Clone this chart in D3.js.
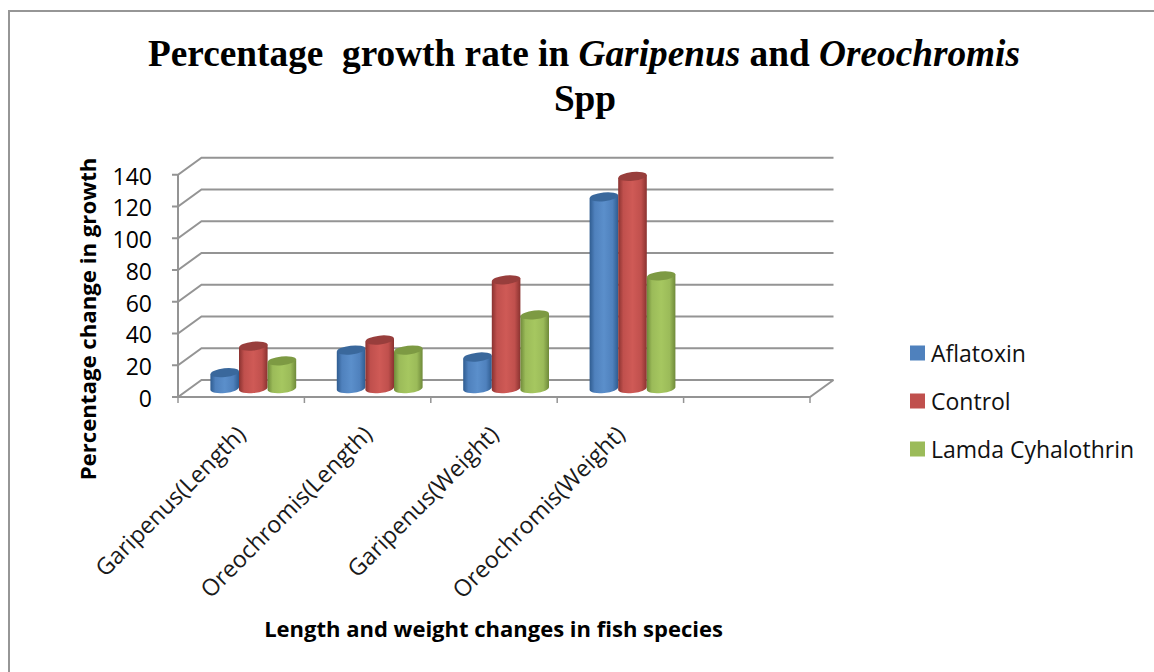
<!DOCTYPE html>
<html><head><meta charset="utf-8">
<script src="https://cdn.jsdelivr.net/npm/d3@7/dist/d3.min.js"></script>
<style>html,body{margin:0;padding:0;background:#fff}svg{display:block}</style>
</head><body><div id="c"></div>
<script>
const categories=["Garipenus(Length)","Oreochromis(Length)","Garipenus(Weight)","Oreochromis(Weight)",""];
const seriesNames=["Aflatoxin","Control","Lamda Cyhalothrin"];
const aflatoxin=[10,24.3,19.9,120.8];
const control=[26.8,30.6,68.5,133.6];
const lamda=[17.5,24.3,46.4,71];
const yTicks=[0,20,40,60,80,100,120,140];
const seriesValues=[aflatoxin,control,lamda];
const colors=[
 {base:"#4f81bd",dark:"#2f5c90",light:"#5b8fcb",top:"#3a689c"},
 {base:"#c0504d",dark:"#8a3230",light:"#cf5a56",top:"#983e3c"},
 {base:"#9bbb59",dark:"#6f8a3a",light:"#a6c760",top:"#7d9a43"}];

const W=1154,H=672;
const svg=d3.select("#c").append("svg").attr("width",W).attr("height",H);
const defs=svg.append("defs");
colors.forEach((c,i)=>{
 const g=defs.append("linearGradient").attr("id","g"+i);
 [[0,c.dark],[.18,c.base],[.5,c.light],[.8,c.base],[1,c.dark]].forEach(s=>g.append("stop").attr("offset",s[0]).attr("stop-color",s[1]));
});
// frame
svg.append("path").attr("d",`M9,${H}V11H${W}`).attr("fill","none").attr("stroke","#969696").attr("stroke-width",2);

const x0=178,x1=810,yBase=397,yTop=174.7,dx=23.5,dy=-17;
const x=d3.scaleBand().domain(categories.map((d,i)=>i)).range([x0,x1]);
const y=d3.scaleLinear().domain([0,140]).range([yBase,yTop]);
const grid="#949494";
const gg=svg.append("g").attr("fill","none").attr("stroke",grid).attr("stroke-width",2);
yTicks.forEach(t=>{
 gg.append("path").attr("d",`M${x0-6},${y(t)}H${x0}L${x0+dx},${y(t)+dy}H${x1+dx}`);
});
gg.append("path").attr("d",`M${x0},${yTop}V${yBase}H${x1}L${x1+dx},${yBase+dy}`);
gg.selectAll(".t").data(d3.range(6)).enter().append("path")
 .attr("d",i=>`M${i<5?x(i):x1},${yBase}v6`).attr("stroke-width",1.5);

// bars
const barW=28.6, depthY=-8.4;
const groupOffset=32.4;
const rx=barW/2, ry=4.4, tilt=-6, drop=1.5;
const bars=svg.append("g");
seriesValues.forEach((vals,s)=>{
 vals.forEach((v,i)=>{
  const cx=x(i)+groupOffset+barW*s+rx;
  const yb=y(0)+depthY, yt=y(v)+depthY;
  const g=bars.append("g");
  g.append("path")
   .attr("d",`M${cx-rx},${yt+drop}V${yb+drop}A${rx},${ry} ${tilt} 0 0 ${cx+rx},${yb-drop}V${yt-drop}Z`)
   .attr("fill",`url(#g${s})`);
  g.append("ellipse").attr("cx",cx).attr("cy",yt).attr("rx",rx).attr("ry",ry)
   .attr("transform",`rotate(${tilt} ${cx} ${yt})`).attr("fill",colors[s].top);
 });
});

const sans="'Open Sans', sans-serif";
// y tick labels
svg.append("g").selectAll("text").data(yTicks).enter().append("text")
 .attr("x",152).attr("y",d=>y(d)+10).attr("text-anchor","end")
 .attr("font-family",sans).attr("font-size",23).attr("fill","#000").text(d=>d);

// category labels
svg.append("g").selectAll("text").data(categories.slice(0,4)).enter().append("text")
 .attr("text-anchor","end").attr("font-family",sans).attr("font-size",23.3).attr("fill","#1a1a1a")
 .attr("transform",(d,i)=>`translate(${x(i)+x.bandwidth()/2+6},${436}) rotate(-45)`).text(d=>d);

svg.append("text").attr("transform","translate(96,319) rotate(-90)").attr("text-anchor","middle")
 .attr("font-family",sans).attr("font-weight",700).attr("font-size",22.2).text("Percentage change in growth");
svg.append("text").attr("x",493.5).attr("y",637).attr("text-anchor","middle")
 .attr("font-family",sans).attr("font-weight",700).attr("font-size",22).text("Length and weight changes in fish species");

// title
const serif="'Liberation Serif', serif";
const t1=svg.append("text").attr("x",584).attr("y",66).attr("text-anchor","middle").style("white-space","pre")
 .attr("font-family",serif).attr("font-weight",700).attr("font-size",37.3);
t1.append("tspan").text("Percentage  growth rate in ");
t1.append("tspan").attr("font-style","italic").text("Garipenus");
t1.append("tspan").text(" and ");
t1.append("tspan").attr("font-style","italic").text("Oreochromis");
svg.append("text").attr("x",585).attr("y",111).attr("text-anchor","middle")
 .attr("font-family",serif).attr("font-weight",700).attr("font-size",37.3).text("Spp");

// legend
const lg=svg.append("g");
seriesNames.forEach((n,i)=>{
 const yy=353+48*i;
 lg.append("rect").attr("x",910).attr("y",yy-7.5).attr("width",15).attr("height",15).attr("fill",colors[i].base);
 lg.append("text").attr("x",931).attr("y",yy+8.5).attr("font-family",sans).attr("font-size",23).attr("fill","#111").text(n);
});
</script></body></html>
